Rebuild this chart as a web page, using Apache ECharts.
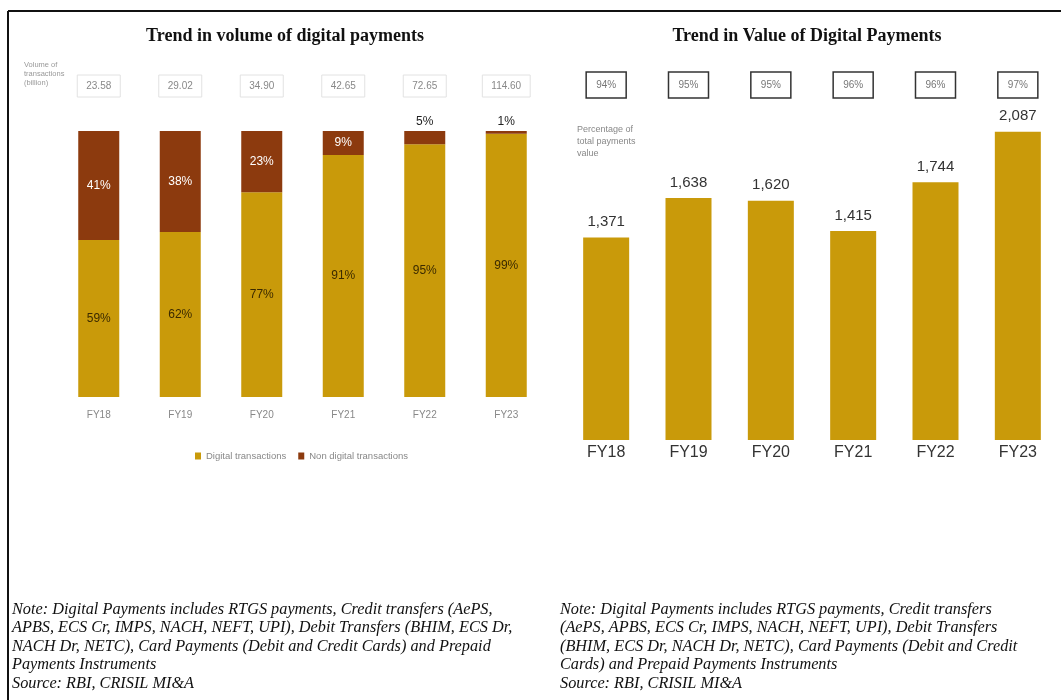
<!DOCTYPE html>
<html>
<head>
<meta charset="utf-8">
<title>Digital payments trend</title>
<script src="https://cdn.jsdelivr.net/npm/echarts@6/dist/echarts.min.js"></script>
<style>
  html, body { margin: 0; padding: 0; background: #fff; }
  #chart { width: 1061px; height: 700px; }
</style>
</head>
<body>
<div id="chart"></div>
<script>
// years shared by both charts
const years = ['FY18', 'FY19', 'FY20', 'FY21', 'FY22', 'FY23'];

// left chart: share of volume (%)
const digitalShare = [59, 62, 77, 91, 95, 99];
const nonDigitalShare = [41, 38, 23, 9, 5, 1];
// total volume of transactions (billion), shown in boxes on top
const volumeLabels = ['23.58', '29.02', '34.90', '42.65', '72.65', '114.60'];

// right chart: value of digital payments
const digitalValue = [1371, 1638, 1620, 1415, 1744, 2087];
// percentage of total payments value, shown in boxes on top
const valueShareLabels = ['94%', '95%', '95%', '96%', '96%', '97%'];

const gold = '#C99A0A';
const brown = '#8C3A0E';
const sans = 'Liberation Sans';

const leftNote = [
  'Note: Digital Payments includes RTGS payments, Credit transfers (AePS,',
  'APBS, ECS Cr, IMPS, NACH, NEFT, UPI), Debit Transfers (BHIM, ECS Dr,',
  'NACH Dr, NETC), Card Payments (Debit and Credit Cards) and Prepaid',
  'Payments Instruments',
  'Source: RBI, CRISIL MI&A'
];
const rightNote = [
  'Note: Digital Payments includes RTGS payments, Credit transfers',
  '(AePS, APBS, ECS Cr, IMPS, NACH, NEFT, UPI), Debit Transfers',
  '(BHIM, ECS Dr, NACH Dr, NETC), Card Payments (Debit and Credit',
  'Cards) and Prepaid Payments Instruments',
  'Source: RBI, CRISIL MI&A'
];

const chart = echarts.init(document.getElementById('chart'));

// small shares do not fit inside the bar, put them on top
const nonDigitalData = nonDigitalShare.map(function (v) {
  if (v <= 5) {
    return { value: v, label: { position: 'top', distance: 3, color: '#222' } };
  }
  return v;
});

const noteStyle = {
  fontFamily: 'Liberation Serif',
  fontStyle: 'italic',
  fontSize: 16.3,
  lineHeight: 18.5,
  fill: '#111'
};

const option = {
  backgroundColor: '#fff',
  animation: false,
  title: [
    {
      text: 'Trend in volume of digital payments',
      left: 280, top: 22, textAlign: 'center',
      textStyle: { fontFamily: 'Liberation Serif', fontWeight: 'bold', fontSize: 18, color: '#111' }
    },
    {
      text: 'Trend in Value of Digital Payments',
      left: 802, top: 22, textAlign: 'center',
      textStyle: { fontFamily: 'Liberation Serif', fontWeight: 'bold', fontSize: 18, color: '#111' }
    }
  ],
  legend: {
    left: 190, top: 446,
    itemWidth: 6, itemHeight: 7, itemGap: 12,
    icon: 'rect',
    textStyle: { fontSize: 9.5, color: '#888', fontFamily: sans },
    data: ['Digital transactions', 'Non digital transactions']
  },
  grid: [
    { left: 58, width: 489, top: 131, height: 266 },
    { left: 565, width: 494, top: 115, height: 325 }
  ],
  xAxis: [
    {
      type: 'category', gridIndex: 0, data: years,
      axisLine: { show: false }, axisTick: { show: false },
      axisLabel: { margin: 13, fontSize: 10, color: '#888', fontFamily: sans }
    },
    {
      type: 'category', gridIndex: 0, data: volumeLabels, position: 'top',
      axisLine: { show: false }, axisTick: { show: false },
      axisLabel: {
        margin: 34, fontSize: 10, color: '#888', fontFamily: sans,
        borderColor: '#e2e2e2', borderWidth: 1, padding: [6, 9]
      }
    },
    {
      type: 'category', gridIndex: 1, data: years,
      axisLine: { show: false }, axisTick: { show: false },
      axisLabel: { margin: 5, fontSize: 16, color: '#333', fontFamily: sans }
    },
    {
      type: 'category', gridIndex: 1, data: valueShareLabels, position: 'top',
      axisLine: { show: false }, axisTick: { show: false },
      axisLabel: {
        margin: 17, fontSize: 10, color: '#777', fontFamily: sans,
        borderColor: '#333', borderWidth: 1.5, padding: [8, 10]
      }
    }
  ],
  yAxis: [
    { type: 'value', gridIndex: 0, min: 0, max: 100, show: false },
    { type: 'value', gridIndex: 1, min: 0, max: 2200, show: false }
  ],
  series: [
    {
      name: 'Digital transactions', type: 'bar', stack: 'vol',
      xAxisIndex: 0, yAxisIndex: 0, barWidth: 41,
      itemStyle: { color: gold },
      label: {
        show: true, position: 'inside', formatter: '{c}%',
        fontSize: 12, color: '#3b2a00', fontFamily: sans
      },
      data: digitalShare
    },
    {
      name: 'Non digital transactions', type: 'bar', stack: 'vol',
      xAxisIndex: 0, yAxisIndex: 0, barWidth: 41,
      itemStyle: { color: brown },
      label: {
        show: true, position: 'inside', formatter: '{c}%',
        fontSize: 12, color: '#fff', fontFamily: sans
      },
      data: nonDigitalData
    },
    {
      name: 'Digital value', type: 'bar',
      xAxisIndex: 2, yAxisIndex: 1, barWidth: 46,
      itemStyle: { color: gold },
      label: {
        show: true, position: 'top', distance: 8,
        fontSize: 15, color: '#333', fontFamily: sans,
        formatter: function (p) { return p.value.toLocaleString('en-US'); }
      },
      data: digitalValue
    }
  ],
  graphic: [
    // frame
    { type: 'line', shape: { x1: 8, y1: 11, x2: 1061, y2: 11 }, style: { stroke: '#111', lineWidth: 2 } },
    { type: 'line', shape: { x1: 8, y1: 11, x2: 8, y2: 700 }, style: { stroke: '#111', lineWidth: 2 } },
    {
      type: 'text', left: 24, top: 60,
      style: { text: 'Volume of\ntransactions\n(billion)', fontSize: 7.5, lineHeight: 9, fill: '#999', fontFamily: sans }
    },
    {
      type: 'text', left: 577, top: 124,
      style: { text: 'Percentage of\ntotal payments\nvalue', fontSize: 9, lineHeight: 12, fill: '#888', fontFamily: sans }
    },
    {
      type: 'text', left: 12, top: 600,
      style: Object.assign({ text: leftNote.join('\n') }, noteStyle)
    },
    {
      type: 'text', left: 560, top: 600,
      style: Object.assign({ text: rightNote.join('\n') }, noteStyle)
    }
  ]
};

chart.setOption(option);
</script>
</body>
</html>
